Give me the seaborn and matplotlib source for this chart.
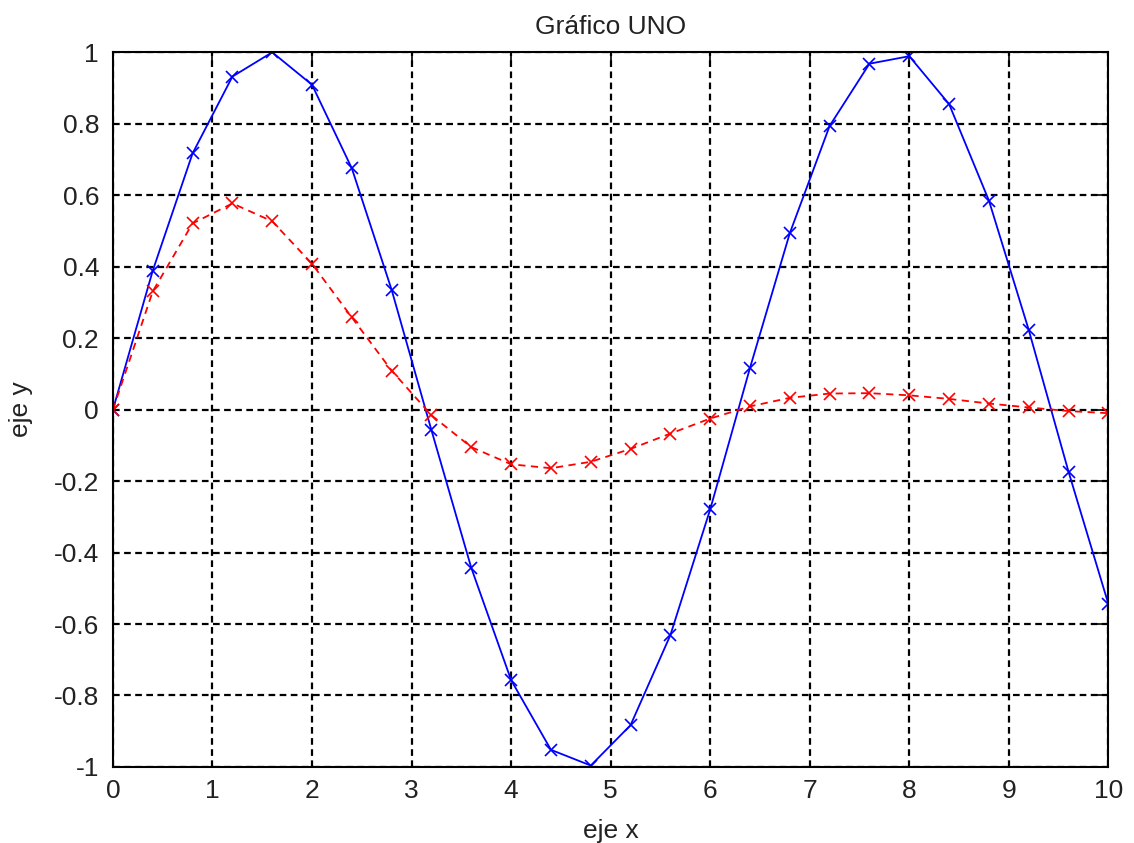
import matplotlib
matplotlib.use("Agg")
import matplotlib.pyplot as plt
import seaborn as sns
import pandas as pd

# Sample points and the two curves
x_vals = [0.0, 0.4, 0.8, 1.2, 1.6, 2.0, 2.4, 2.8, 3.2, 3.6, 4.0, 4.4, 4.8,
          5.2, 5.6, 6.0, 6.4, 6.8, 7.2, 7.6, 8.0, 8.4, 8.8, 9.2, 9.6, 10.0]
seno = [0.0, 0.389, 0.717, 0.932, 1.0, 0.909, 0.675, 0.335, -0.058, -0.443,
        -0.757, -0.952, -0.996, -0.883, -0.631, -0.279, 0.117, 0.494, 0.794,
        0.968, 0.989, 0.855, 0.585, 0.223, -0.174, -0.544]
amortiguada = [0.0, 0.331, 0.521, 0.577, 0.527, 0.408, 0.258, 0.109, -0.016,
               -0.105, -0.153, -0.164, -0.146, -0.110, -0.067, -0.025, 0.009,
               0.033, 0.045, 0.046, 0.040, 0.030, 0.017, 0.006, -0.004, -0.010]

x_ticks = [0, 1, 2, 3, 4, 5, 6, 7, 8, 9, 10]
y_ticks = [-1, -0.8, -0.6, -0.4, -0.2, 0, 0.2, 0.4, 0.6, 0.8, 1]
y_labels = ["-1", "-0.8", "-0.6", "-0.4", "-0.2", "0", "0.2", "0.4", "0.6", "0.8", "1"]

df = pd.DataFrame({"x": x_vals, "seno": seno, "amortiguada": amortiguada})

sns.set_theme(style="white")
plt.rcParams["font.family"] = ["Liberation Sans", "DejaVu Sans"]

text_color = "#222222"

fig = plt.figure(figsize=(11.34, 8.43), dpi=100)
ax = fig.add_axes([0.0996, 0.0902, 0.8778, 0.8478])

sns.lineplot(data=df, x="x", y="seno", ax=ax, color="#0000ff", lw=1.3,
             marker="x", markersize=9, markeredgewidth=1.2, markeredgecolor="#0000ff")
sns.lineplot(data=df, x="x", y="amortiguada", ax=ax, color="#ff0000", lw=1.3,
             linestyle=(0, (4, 3)), marker="x", markersize=9, markeredgewidth=1.2,
             markeredgecolor="#ff0000")

ax.set_xlim(0, 10)
ax.set_ylim(-1, 1)
ax.set_xticks(x_ticks)
ax.set_xticklabels([str(t) for t in x_ticks])
ax.set_yticks(y_ticks)
ax.set_yticklabels(y_labels)

ax.grid(True, color="black", linestyle=(0, (3, 2)), linewidth=1.6)
ax.set_axisbelow(True)
for s in ax.spines.values():
    s.set_color("black")
    s.set_linewidth(1.5)
    s.set_visible(True)

ax.tick_params(direction="in", length=8, width=1.2, top=True, right=True,
               labelsize=19, colors="black", labelcolor=text_color)
ax.tick_params(axis="y", pad=10)
ax.tick_params(axis="x", pad=9)

ax.set_xlabel("eje x", fontsize=19, color=text_color, labelpad=11)
ax.set_ylabel("eje y", fontsize=19, color=text_color, labelpad=15)
ax.set_title("Gráfico UNO", fontsize=19, color=text_color, pad=13)

fig.savefig("out.png", dpi=100, facecolor="white")
